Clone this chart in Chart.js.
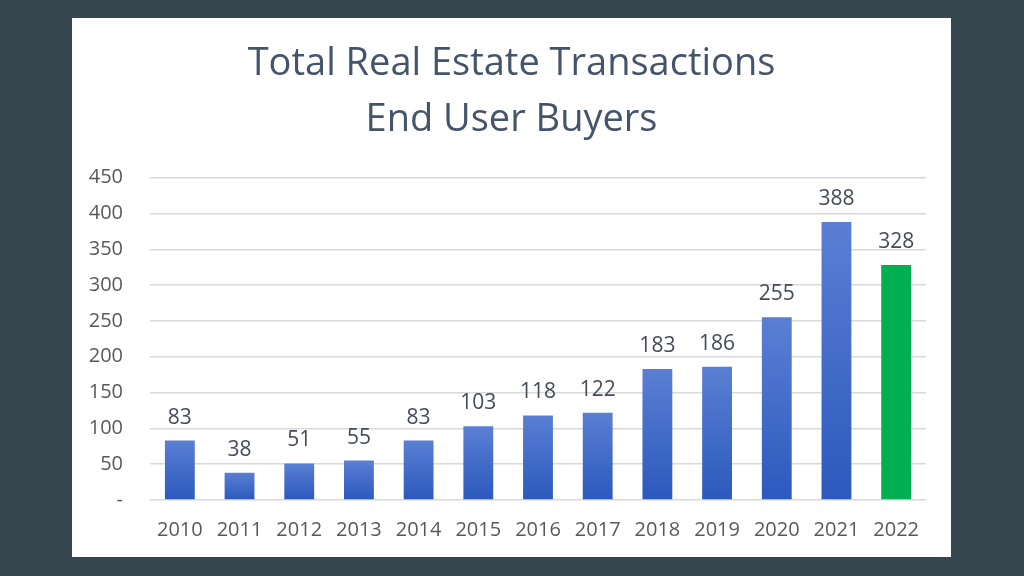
<!DOCTYPE html>
<html>
<head>
<meta charset="utf-8">
<script src="https://cdn.jsdelivr.net/npm/chart.js@4/dist/chart.umd.min.js"></script>
<style>
  html, body { margin: 0; padding: 0; }
  body { width: 1024px; height: 576px; background: #37474f; position: relative; overflow: hidden; }
  #card { position: absolute; left: 72px; top: 18px; width: 879px; height: 539px; background: #ffffff; }
</style>
</head>
<body>
<div id="card"><canvas id="c" width="879" height="539"></canvas></div>
<script>
// data
const years = ['2010', '2011', '2012', '2013', '2014', '2015', '2016', '2017', '2018', '2019', '2020', '2021', '2022'];
const buyers = [83, 38, 51, 55, 83, 103, 118, 122, 183, 186, 255, 388, 328];
const titleLines = ['Total Real Estate Transactions', 'End User Buyers'];

// bar fill: blue gradient per bar, the last year in green
function barFill(ctx) {
  const chart = ctx.chart;
  if (ctx.dataIndex === years.length - 1) return '#00b050';
  const area = chart.chartArea;
  if (!area) return '#4472c4';
  const yScale = chart.scales.y;
  const top = yScale.getPixelForValue(buyers[ctx.dataIndex]);
  const bottom = yScale.getPixelForValue(0);
  const g = chart.ctx.createLinearGradient(0, top, 0, bottom);
  g.addColorStop(0, '#5a7fd4');
  g.addColorStop(1, '#2c59bd');
  return g;
}

// numbers above bars
const valueLabels = {
  id: 'valueLabels',
  afterDatasetsDraw(chart) {
    const ctx = chart.ctx;
    const meta = chart.getDatasetMeta(0);
    ctx.save();
    ctx.font = '21px "Open Sans"';
    ctx.fillStyle = '#444b59';
    ctx.textAlign = 'center';
    ctx.textBaseline = 'alphabetic';
    meta.data.forEach((bar, i) => {
      ctx.fillText(buyers[i], bar.x, bar.y - 17);
    });
    ctx.restore();
  }
};

new Chart(document.getElementById('c'), {
  type: 'bar',
  data: {
    labels: years,
    datasets: [{
      data: buyers,
      backgroundColor: barFill,
      borderWidth: 0,
      barPercentage: 0.5,
      categoryPercentage: 1.0
    }]
  },
  options: {
    responsive: false,
    animation: false,
    layout: { padding: 0 },
    plugins: {
      legend: { display: false },
      tooltip: { enabled: false },
      title: {
        display: true,
        text: titleLines,
        color: '#44546a',
        font: { family: '"Open Sans"', size: 38, weight: 'normal', lineHeight: 1.47 },
        padding: { top: 18, bottom: 30 }
      }
    },
    scales: {
      x: {
        afterFit(scale) { scale.height = 57; },
        grid: { display: false, drawTicks: false },
        border: { display: false },
        ticks: { color: '#595959', font: { family: '"Open Sans"', size: 20 }, padding: 18 }
      },
      y: {
        min: 0,
        max: 450,
        afterFit(scale) { scale.width = 78; },
        grid: { color: '#d9d9d9', lineWidth: 1.5, drawTicks: false },
        border: { display: false },
        ticks: {
          stepSize: 50,
          color: '#595959',
          font: { family: '"Open Sans"', size: 20 },
          padding: 27,
          callback: v => v === 0 ? '-' : v
        }
      },
      // empty right-hand margin so the title stays centred on the card
      yRight: {
        position: 'right',
        min: 0,
        max: 450,
        afterFit(scale) { scale.width = 25; },
        grid: { display: false, drawTicks: false },
        border: { display: false },
        ticks: { display: false }
      }
    }
  },
  plugins: [valueLabels]
});
</script>
</body>
</html>
